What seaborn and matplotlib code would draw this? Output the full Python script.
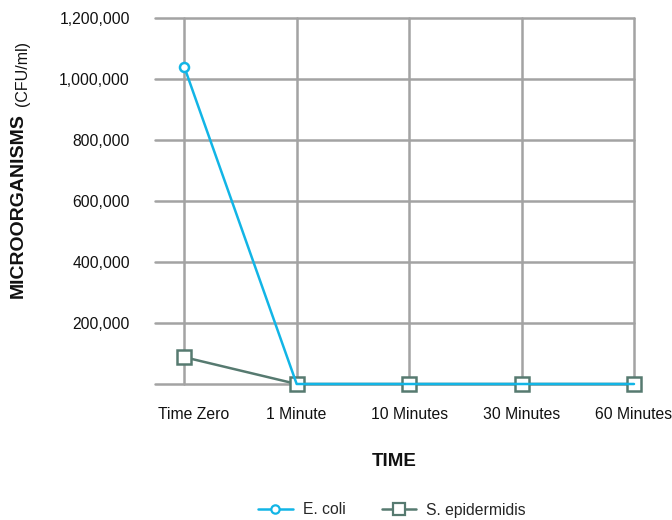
import matplotlib
matplotlib.use("Agg")
import matplotlib.pyplot as plt
import matplotlib.transforms as mtransforms
import seaborn as sns
import pandas as pd
from matplotlib.lines import Line2D

categories = ["Time Zero", "1 Minute", "10 Minutes", "30 Minutes", "60 Minutes"]
ecoli = [1040000, 0, 0, 0, 0]
sepi = [88000, 0, 0, 0, 0]
series_names = ["E. coli", "S. epidermidis"]
y_ticks = [0, 200000, 400000, 600000, 800000, 1000000, 1200000]
y_tick_labels = ["", "200,000", "400,000", "600,000", "800,000", "1,000,000", "1,200,000"]

c_ecoli = "#12b5e6"
c_sepi = "#567a70"
grid_c = "#a3a3a3"

sns.set_theme(style="white")
plt.rcParams["font.family"] = ["Liberation Sans", "DejaVu Sans"]

df = pd.DataFrame({
    "pos": list(range(len(categories))) * 2,
    "value": sepi + ecoli,
    "series": [series_names[1]] * len(categories) + [series_names[0]] * len(categories),
})

fig = plt.figure(figsize=(6.72, 5.2), dpi=100)
ax = fig.add_axes([155 / 672, 1 - 384 / 520, (634 - 155) / 672, (384 - 18) / 520])

sns.lineplot(data=df, x="pos", y="value", hue="series", style="series",
             palette={series_names[0]: c_ecoli, series_names[1]: c_sepi},
             markers={series_names[0]: "o", series_names[1]: "s"},
             dashes=False, ax=ax, legend=False, linewidth=1.8,
             hue_order=[series_names[1], series_names[0]],
             style_order=[series_names[1], series_names[0]])

for ln in ax.lines:
    ln.set_clip_on(False)
    ln.set_zorder(5)
    col = ln.get_color()
    ln.set_markerfacecolor("white")
    ln.set_markeredgecolor(col)
    ln.set_markeredgewidth(1.8)
    if ln.get_marker() == "o":
        ln.set_markersize(6.5)
        ln.set_markevery([0])
        ln.set_zorder(6)
    else:
        ln.set_markersize(9.5)

ax.set_xlim(-0.26, 4)
ax.set_ylim(0, 1200000)
ax.set_xticks(range(len(categories)))
ax.set_xticklabels(categories, fontsize=11.3, color="#111111")
ax.set_yticks(y_ticks)
ax.set_yticklabels(y_tick_labels, fontsize=11.3, color="#111111")
ax.tick_params(axis="both", length=0)
ax.tick_params(axis="y", pad=18)
ax.tick_params(axis="x", pad=16.5)

# first category label sits slightly right of its gridline in the reference
first = ax.get_xticklabels()[0]
first.set_transform(first.get_transform() +
                    mtransforms.ScaledTranslation(9 / 100, 0, fig.dpi_scale_trans))

ax.grid(True, color=grid_c, linewidth=1.8)
ax.set_axisbelow(True)
for gl in ax.get_xgridlines() + ax.get_ygridlines():
    gl.set_clip_on(False)
for s in ax.spines.values():
    s.set_visible(False)

ax.set_xlabel("")
ax.set_ylabel("")

fig.text(394 / 672, 1 - 461 / 520, "TIME", ha="center", va="center",
         fontsize=13.5, fontweight="bold", color="#111111")
fig.text(18 / 672, 1 - 206 / 520, "MICROORGANISMS", rotation=90, ha="center",
         va="center", fontsize=14.0, fontweight="bold", color="#111111")
fig.text(22.5 / 672, 1 - 74 / 520, "(CFU/ml)", rotation=90, ha="center",
         va="center", fontsize=11.5, color="#111111")

handles = [
    Line2D([], [], color=c_ecoli, marker="o", markersize=6, markerfacecolor="white",
           markeredgecolor=c_ecoli, markeredgewidth=1.6, linewidth=1.8),
    Line2D([], [], color=c_sepi, marker="s", markersize=8.5, markerfacecolor="white",
           markeredgecolor=c_sepi, markeredgewidth=1.6, linewidth=1.8),
]
fig.legend(handles, series_names, loc="center", bbox_to_anchor=(392 / 672, 1 - 510 / 520),
           ncol=2, frameon=False, fontsize=11.3, handlelength=2.2, columnspacing=2.3,
           handletextpad=0.64)

fig.savefig("out.png", dpi=100, facecolor="white")
